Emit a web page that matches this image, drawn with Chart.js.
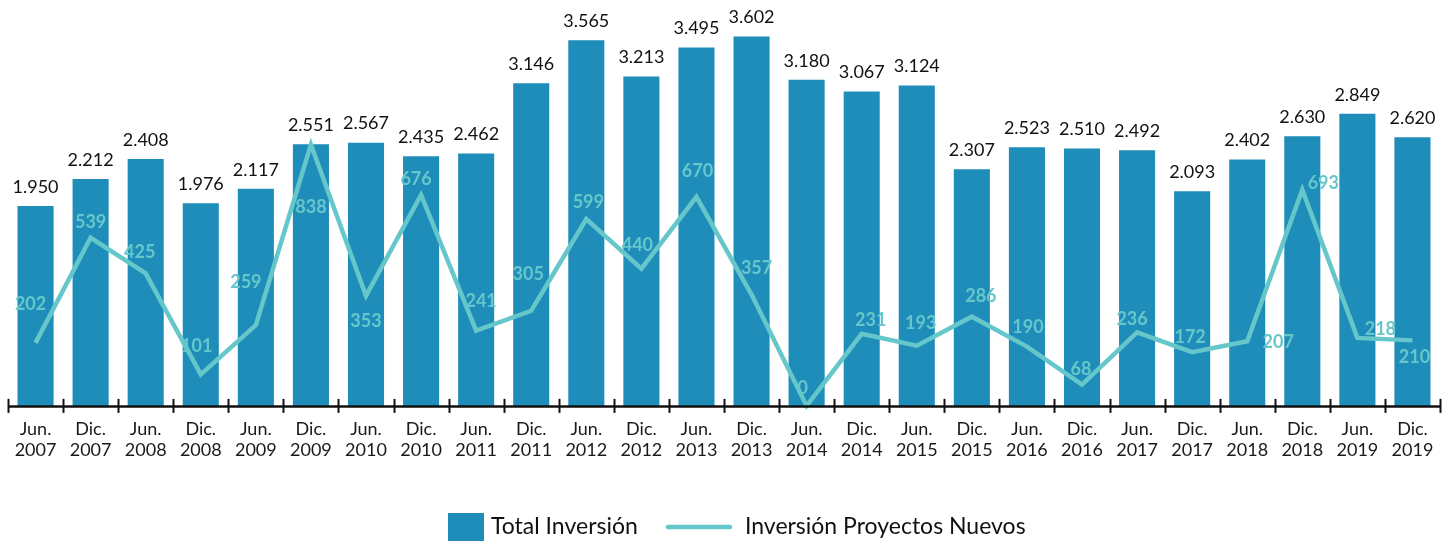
<!DOCTYPE html>
<html>
<head>
<meta charset="utf-8">
<script src="https://cdn.jsdelivr.net/npm/chart.js@4.4.1/dist/chart.umd.min.js"></script>
<style>
  html, body { margin: 0; padding: 0; background: #fff; }
  #wrap { width: 1454px; height: 541px; position: relative; }
</style>
</head>
<body>
<div id="wrap"><canvas id="invChart"></canvas></div>
<script>
// ---- data ----
const periods = [
  ["Jun.", "2007"], ["Dic.", "2007"], ["Jun.", "2008"], ["Dic.", "2008"],
  ["Jun.", "2009"], ["Dic.", "2009"], ["Jun.", "2010"], ["Dic.", "2010"],
  ["Jun.", "2011"], ["Dic.", "2011"], ["Jun.", "2012"], ["Dic.", "2012"],
  ["Jun.", "2013"], ["Dic.", "2013"], ["Jun.", "2014"], ["Dic.", "2014"],
  ["Jun.", "2015"], ["Dic.", "2015"], ["Jun.", "2016"], ["Dic.", "2016"],
  ["Jun.", "2017"], ["Dic.", "2017"], ["Jun.", "2018"], ["Dic.", "2018"],
  ["Jun.", "2019"], ["Dic.", "2019"]
];
const totalInversion = [1950, 2212, 2408, 1976, 2117, 2551, 2567, 2435, 2462, 3146, 3565, 3213, 3495,
  3602, 3180, 3067, 3124, 2307, 2523, 2510, 2492, 2093, 2402, 2630, 2849, 2620];
const proyectosNuevos = [202, 539, 425, 101, 259, 838, 353, 676, 241, 305, 599, 440, 670,
  357, 0, 231, 193, 286, 190, 68, 236, 172, 207, 693, 218, 210];

// where each line label sits relative to its point (dx, dy in px)
const lineLabelOffsets = [
  [-5, -39], [0, -16], [-6, -21], [-4, -28], [-10, -43], [0, 63], [0, 25], [-5, -16],
  [5, -30], [-3, -37], [2, -17], [-4, -23], [1, -26], [5, -26], [-4, -18], [9, -14],
  [4, -22], [9, -20], [1, -19], [-1, -15], [-5, -13], [-2, -15], [31, 1], [21, -7],
  [23, -9], [2, 17]
];

const BAR_COLOR = "#1f8db9";
const LINE_COLOR = "#66c7cb";
const FONT = "Lato, 'Open Sans', sans-serif";

function fmt(v) {
  return String(v).replace(/\B(?=(\d{3})+(?!\d))/g, ".");
}

// value labels, axis line with ticks, legend
const decorPlugin = {
  id: "decor",
  afterDatasetsDraw(chart) {
    const ctx = chart.ctx;
    const x = chart.scales.x;
    const area = chart.chartArea;

    // axis line + ticks crossing it
    ctx.save();
    ctx.strokeStyle = "#111";
    ctx.lineWidth = 2.5;
    ctx.beginPath();
    ctx.moveTo(area.left, area.bottom + 0.5);
    ctx.lineTo(area.right, area.bottom + 0.5);
    ctx.stroke();
    const half = (x.getPixelForValue(1) - x.getPixelForValue(0)) / 2;
    ctx.lineWidth = 2;
    for (let i = 0; i <= periods.length; i++) {
      const px = Math.round(x.getPixelForValue(i) - half) + 0.5;
      ctx.beginPath();
      ctx.moveTo(px, area.bottom - 7);
      ctx.lineTo(px, area.bottom + 7);
      ctx.stroke();
    }

    // bar labels
    const barMeta = chart.getDatasetMeta(0);
    ctx.fillStyle = "#111";
    ctx.font = "18px " + FONT;
    ctx.textAlign = "center";
    ctx.textBaseline = "middle";
    barMeta.data.forEach((bar, i) => {
      ctx.fillText(fmt(totalInversion[i]), bar.x, bar.y - 19);
    });

    // line labels
    const lineMeta = chart.getDatasetMeta(1);
    ctx.fillStyle = LINE_COLOR;
    ctx.font = "bold 18px " + FONT;
    lineMeta.data.forEach((pt, i) => {
      const off = lineLabelOffsets[i];
      ctx.fillText(fmt(proyectosNuevos[i]), pt.x + off[0], pt.y + off[1]);
    });

    // legend
    const ly = 527;
    let lx = 448;
    ctx.fillStyle = BAR_COLOR;
    ctx.fillRect(lx, 513, 36, 30);
    lx += 36 + 7;
    ctx.fillStyle = "#111";
    ctx.font = "23px " + FONT;
    ctx.textAlign = "left";
    ctx.fillText("Total Inversión", lx, ly);
    lx = 668;
    ctx.strokeStyle = LINE_COLOR;
    ctx.lineWidth = 4.5;
    ctx.lineCap = "round";
    ctx.beginPath();
    ctx.moveTo(lx, ly);
    ctx.lineTo(lx + 62, ly);
    ctx.stroke();
    lx += 62 + 15;
    ctx.fillText("Inversión Proyectos Nuevos", lx, ly);
    ctx.restore();
  }
};

const ctx = document.getElementById("invChart");
new Chart(ctx, {
  data: {
    labels: periods,
    datasets: [
      {
        type: "bar",
        label: "Total Inversión",
        data: totalInversion,
        backgroundColor: BAR_COLOR,
        barPercentage: 0.655,
        categoryPercentage: 1,
        yAxisID: "y",
        order: 2
      },
      {
        type: "line",
        label: "Inversión Proyectos Nuevos",
        data: proyectosNuevos,
        borderColor: LINE_COLOR,
        borderWidth: 4.5,
        pointRadius: 0,
        tension: 0,
        clip: false,
        yAxisID: "y1",
        order: 1
      }
    ]
  },
  options: {
    responsive: true,
    maintainAspectRatio: false,
    animation: false,
    layout: { padding: { top: 6, left: 8, right: 14, bottom: 75 } },
    plugins: {
      legend: { display: false },
      tooltip: { enabled: false }
    },
    scales: {
      x: {
        grid: { display: false },
        border: { display: false },
        ticks: {
          color: "#1a1a1a",
          font: { family: FONT, size: 18, lineHeight: 1.17 },
          padding: 5,
          maxRotation: 0,
          autoSkip: false
        }
      },
      y: { display: false, min: 0, max: 3900 },
      y1: { display: false, min: 0, max: 1282 }
    }
  },
  plugins: [decorPlugin]
});
</script>
</body>
</html>
